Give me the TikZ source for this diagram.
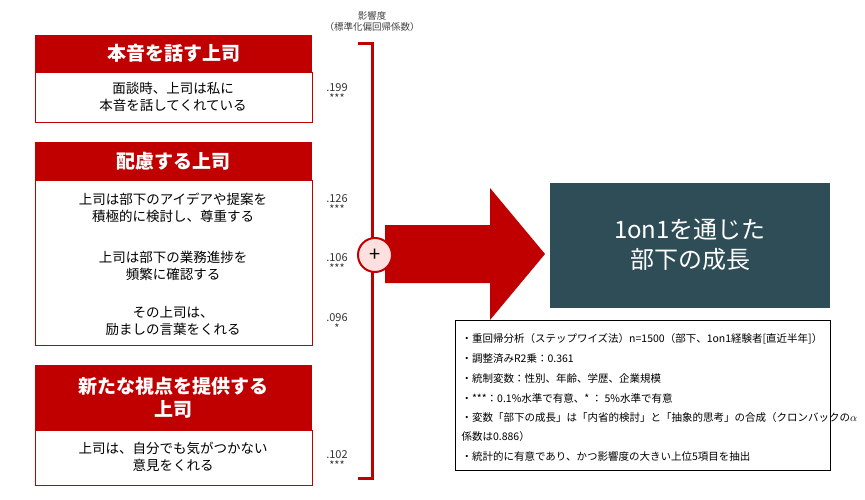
\documentclass[tikz,border=0pt]{standalone}
\usepackage{fontspec}
\setmainfont{Noto Sans CJK JP}
\usetikzlibrary{positioning}
\definecolor{bossred}{HTML}{C00000}
\definecolor{goalteal}{HTML}{2E4D57}
\tikzset{
    head/.style={fill=bossred,text=white,font=\bfseries\fontsize{19}{23}\selectfont,align=center,anchor=north west,minimum width=277pt,inner sep=0pt},
    body/.style={draw=bossred,line width=1pt,anchor=north west,minimum width=277pt,inner sep=0pt},
    item/.style={font=\fontsize{13.5}{17}\selectfont,align=center},
    coef/.style={font=\fontsize{11}{11}\selectfont,align=center,text=black!80},
    note/.style={font=\fontsize{10.5}{12}\selectfont,anchor=west}
}
\begin{document}
\begin{tikzpicture}[x=1pt,y=-1pt]
  \useasboundingbox (0,0) rectangle (865,500);
  % Left boxes
  \node[head,minimum height=37pt] (h1) at (35,35) {本音を話す上司};
  \node[body,minimum height=50pt] (b1) at (35,72) {};
  \node[item] (i1) at (173,97) {面談時、上司は私に\\本音を話してくれている};
  \node[head,minimum height=38pt] (h2) at (35,142) {配慮する上司};
  \node[body,minimum height=165pt] (b2) at (35,180) {};
  \node[item] (i2) at (173,208) {上司は部下のアイデアや提案を\\積極的に検討し、尊重する};
  \node[item] (i3) at (173,266) {上司は部下の業務進捗を\\頻繁に確認する};
  \node[item] (i4) at (173,321) {その上司は、\\励ましの言葉をくれる};
  \node[head,minimum height=65pt] (h3) at (35,365) {新たな視点を提供する\\上司};
  \node[body,minimum height=55pt] (b3) at (35,430) {};
  \node[item] (i5) at (173,457) {上司は、自分でも気がつかない\\意見をくれる};

  % Coefficients
  \node[coef] (c1) at (337,93) {.199\\***};
  \node[coef] (c2) at (337,204) {.126\\***};
  \node[coef] (c3) at (337,263) {.106\\***};
  \node[coef] (c4) at (337,323) {.096\\*};
  \node[coef] (c5) at (337,460) {.102\\***};
  \node[font=\fontsize{9.5}{11}\selectfont,align=center,text=black!75] (lbl) at (372,21) {影響度\\（標準化偏回帰係数）};

  % Bracket and arrow
  \draw[bossred,line width=3pt] (358,44) -- (372,44) -- (372,478) -- (358,478);
  \fill[bossred] (385,225) -- (490,225) -- (490,188) -- (545,254) -- (490,320) -- (490,283) -- (385,283) -- cycle;
  \node[circle,draw=bossred,line width=2pt,fill=red!12,minimum size=34pt,inner sep=0pt,font=\fontsize{20}{20}\selectfont] (plus) at (375,255) {+};

  % Outcome
  \node[fill=goalteal,text=white,minimum width=280pt,minimum height=125pt,align=center,font=\fontsize{24}{30}\selectfont] (goal) at (690,245) {1on1を通じた\\部下の成長};

  % Notes
  \draw[line width=0.8pt,fill=white] (455,320) rectangle (830,470);
  \node[note] (n1) at (458,339) {・重回帰分析（ステップワイズ法）n=1500（部下、1on1経験者[直近半年]）};
  \node[note] (n2) at (458,359) {・調整済みR2乗：0.361};
  \node[note] (n3) at (458,379) {・統制変数：性別、年齢、学歴、企業規模};
  \node[note] (n4) at (458,398) {・***：0.1\%水準で有意、*\ ：\ 5\%水準で有意};
  \node[note] (n5) at (458,418) {・変数「部下の成長」は「内省的検討」と「抽象的思考」の合成（クロンバックの$\alpha$};
  \node[note] (n6) at (458,437) {係数は0.886）};
  \node[note] (n7) at (458,457) {・統計的に有意であり、かつ影響度の大きい上位5項目を抽出};
\end{tikzpicture}
\end{document}
